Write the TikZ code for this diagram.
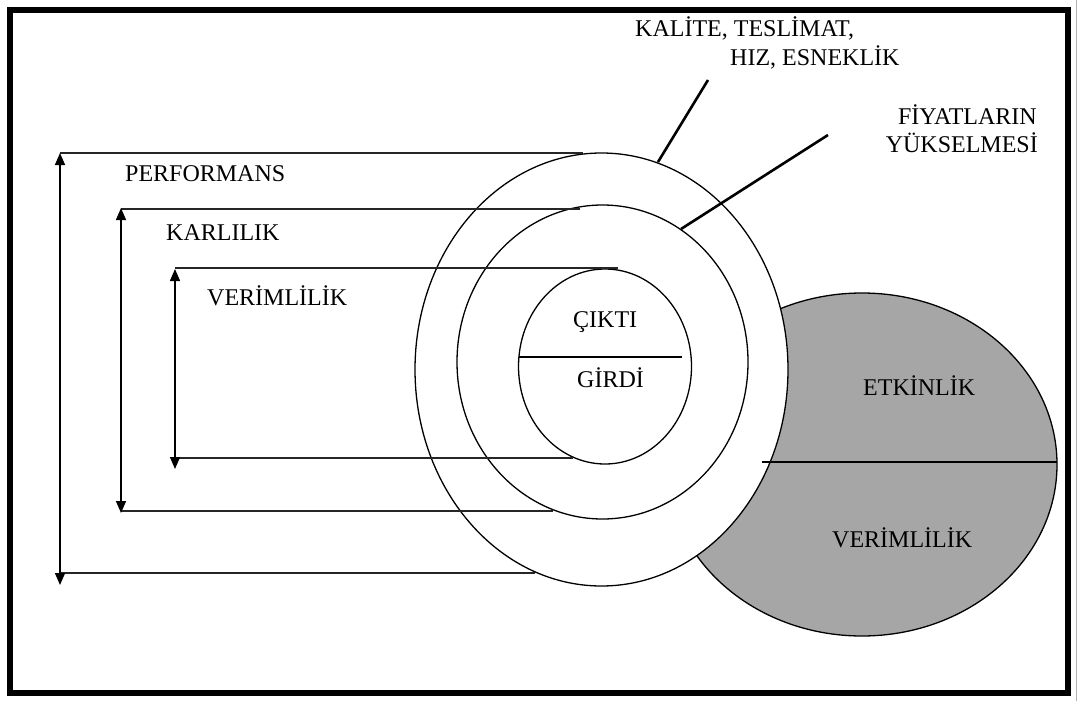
\documentclass[tikz,border=0pt]{standalone}
\usepackage{fontspec}
\setmainfont{Liberation Serif}
\usetikzlibrary{arrows.meta}
\definecolor{shade}{HTML}{A6A6A6}
\begin{document}
\begin{tikzpicture}[x=1pt,y=-1pt,
  lbl/.style={inner sep=0pt, font=\fontsize{24}{28}\selectfont},
  ringline/.style={line width=1.3pt},
  dimline/.style={line width=1.4pt, black!85},
  dimarrow/.style={line width=1.4pt, {Triangle[length=12pt,width=10pt]}-{Triangle[length=12pt,width=10pt]}},
  leader/.style={line width=2.6pt}]
\useasboundingbox (0,0) rectangle (1081,701);
\fill[white] (0,0) rectangle (1081,701);

% grey ellipse
\draw[ringline, fill=shade] (862,464.5) ellipse [x radius=195, y radius=171.5];
% outer ring
\draw[ringline, fill=white] (601.5,369.5) ellipse [x radius=186.5, y radius=216.5];
\draw[ringline] (602.5,362) ellipse [x radius=145.5, y radius=157];
\draw[ringline] (605,366.5) ellipse [x radius=86.5, y radius=97.5];

% dividers
\coordinate (inL) at (519,357);
\coordinate (inR) at (682,357);
\draw[ringline] (inL) -- (inR);
\coordinate (grL) at (762,462);
\coordinate (grR) at (1057,462);
\draw[ringline] (grL) -- (grR);

% dimension lines
\coordinate (pTL) at (60,153);  \coordinate (pTR) at (583,153);
\coordinate (pBL) at (60,573);  \coordinate (pBR) at (535,573);
\coordinate (pA1) at (60,153);  \coordinate (pA2) at (60,585);
\coordinate (kTL) at (121,209); \coordinate (kTR) at (580,209);
\coordinate (kBL) at (121,511); \coordinate (kBR) at (553,511);
\coordinate (kA1) at (121,208); \coordinate (kA2) at (121,513);
\coordinate (vTL) at (175,268); \coordinate (vTR) at (618,268);
\coordinate (vBL) at (175,458); \coordinate (vBR) at (573,458);
\coordinate (vA1) at (175,269); \coordinate (vA2) at (175,469);
\draw[dimline] (pTL) -- (pTR);
\draw[dimline] (pBL) -- (pBR);
\draw[dimline] (kTL) -- (kTR);
\draw[dimline] (kBL) -- (kBR);
\draw[dimline] (vTL) -- (vTR);
\draw[dimline] (vBL) -- (vBR);
\draw[dimarrow] (pA2) -- (pA1);
\draw[dimarrow] (kA2) -- (kA1);
\draw[dimarrow] (vA2) -- (vA1);

% leaders
\coordinate (l1a) at (708,80);  \coordinate (l1b) at (658,162);
\coordinate (l2a) at (828,135); \coordinate (l2b) at (681,229);
\draw[leader] (l1a) -- (l1b);
\draw[leader] (l2a) -- (l2b);

% labels
\node[lbl, anchor=base west] (perf) at (125,181) {PERFORMANS};
\node[lbl, anchor=base west] (karl) at (166,240) {KARLILIK};
\node[lbl, anchor=base west] (verL) at (207,305) {VERİMLİLİK};
\node[lbl, anchor=base west] (kal1) at (635,37) {KALİTE, TESLİMAT,};
\node[lbl, anchor=base west] (kal2) at (730,66) {HIZ, ESNEKLİK};
\node[lbl, anchor=base east] (fiy1) at (1037,124) {FİYATLARIN};
\node[lbl, anchor=base east] (fiy2) at (1038,152) {YÜKSELMESİ};
\node[lbl, anchor=base west] (cikti) at (573,327) {ÇIKTI};
\node[lbl, anchor=base west] (girdi) at (577,387) {GİRDİ};
\node[lbl, anchor=base west] (etk) at (863,395) {ETKİNLİK};
\node[lbl, anchor=base west] (verR) at (832,547) {VERİMLİLİK};

% frame
\draw[line width=6pt] (10,10) rectangle (1068,693);
\draw[black!30, line width=0.8pt] (1076,0) -- (1076,701);
\end{tikzpicture}
\end{document}
